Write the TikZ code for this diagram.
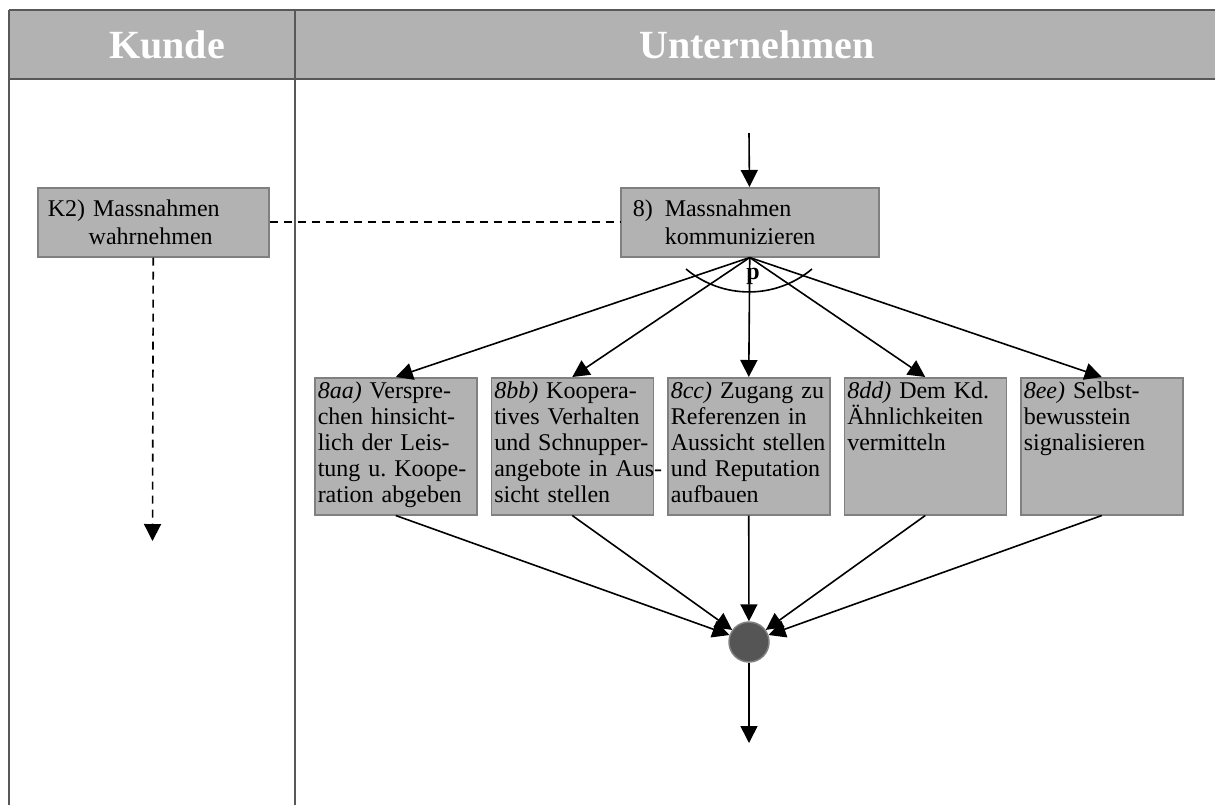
\documentclass[tikz,border=0pt]{standalone}
\usepackage{fontspec}
\setmainfont{Liberation Serif}
\usepackage{tikz}
\usetikzlibrary{arrows.meta}

\definecolor{boxfill}{RGB}{178,178,178}
\definecolor{boxline}{RGB}{128,128,128}
\definecolor{framegray}{RGB}{88,88,88}
\definecolor{mergefill}{RGB}{85,85,85}

\frenchspacing

\begin{document}
\begin{tikzpicture}[
    x=0.5pt, y=-0.5pt,
    font=\fontsize{12}{13}\selectfont,
    frame/.style={draw=framegray, line width=1pt},
    head/.style={font=\bfseries\fontsize{20}{24}\selectfont, text=white},
    task/.style={draw=boxline, fill=boxfill, line width=0.75pt, anchor=north west,
                 align=left, minimum height=34.5pt, font=\fontsize{12}{14}\selectfont},
    opt/.style={draw=boxline, fill=boxfill, line width=0.75pt, anchor=north west,
                text width=78pt, align=left, inner xsep=1.5pt, inner ysep=1.5pt,
                text height=9pt, text depth=56.5pt},
    merge/.style={circle, draw=boxline, fill=mergefill, line width=0.75pt,
                  minimum size=20pt, inner sep=0pt},
    arr/.style={-{Triangle[length=8.5pt, width=8.5pt]}, line width=0.8pt},
    dashline/.style={dash pattern=on 4pt off 3pt, line width=0.8pt}
]
\useasboundingbox (0,0) rectangle (1215,805);

% swimlane header and lane borders
\fill[boxfill] (9,10) rectangle (1215,79);
\draw[frame] (9,10) -- (1215,10);
\draw[frame] (9,79) -- (1215,79);
\draw[frame] (9,10) -- (9,805);
\draw[frame] (295,10) -- (295,805);

\node[head] (kunde) at (167,45) {Kunde};
\node[head] (firma) at (757,45) {Unternehmen};

% activities
\node[task, text width=105.5pt, inner xsep=5pt] (k2) at (37,187)
    {K2) Massnahmen\\\hspace*{20.5pt}wahrnehmen};
\node[task, text width=117pt, inner xsep=6pt] (m8) at (620,187)
    {8)\hspace{6pt}Massnahmen\\\hspace*{16pt}kommunizieren};

\node[opt] (aa) at (314,377)
    {\mbox{\textit{8aa)} Verspre-}\\chen hinsicht-\\lich der Leis-\\\mbox{tung u. Koope-}\\\mbox{ration abgeben}};
\node[opt] (bb) at (490.5,377)
    {\mbox{\textit{8bb)} Koopera-}\\\mbox{tives Verhalten}\\\mbox{und Schnupper-}\\\mbox{angebote in Aus-}\\sicht stellen};
\node[opt] (cc) at (667,377)
    {\mbox{\textit{8cc)} Zugang zu}\\Referenzen in\\\mbox{Aussicht stellen}\\\mbox{und Reputation}\\aufbauen};
\node[opt] (dd) at (843.5,377)
    {\mbox{\textit{8dd)} Dem Kd.}\\Ähnlichkeiten\\vermitteln};
\node[opt] (ee) at (1020,377)
    {\mbox{\textit{8ee)} Selbst-}\\bewusstein\\signalisieren};

\node[merge] (join) at (749,642) {};

\coordinate (in8) at (749,133);
\coordinate (k2end) at (152.5,541);
\coordinate (out) at (749,743);

% flow
\draw[arr] (in8) -- (m8);
\draw[dashline] (k2.east) -- (m8.west);
\draw[arr, dashline] (k2.south) -- (k2end);

\foreach \b in {aa,bb,cc,dd,ee}
    \draw[arr] (m8.south) -- (\b.north);
\draw[line width=0.8pt] (686,269) arc[start angle=130, end angle=50, radius=98];
\node[font=\bfseries\fontsize{12}{13}\selectfont] (p) at (753,276) {p};

\foreach \b in {aa,bb,cc,dd,ee}
    \draw[arr] (\b.south) -- (join);
\draw[arr] (join) -- (out);

\end{tikzpicture}
\end{document}
